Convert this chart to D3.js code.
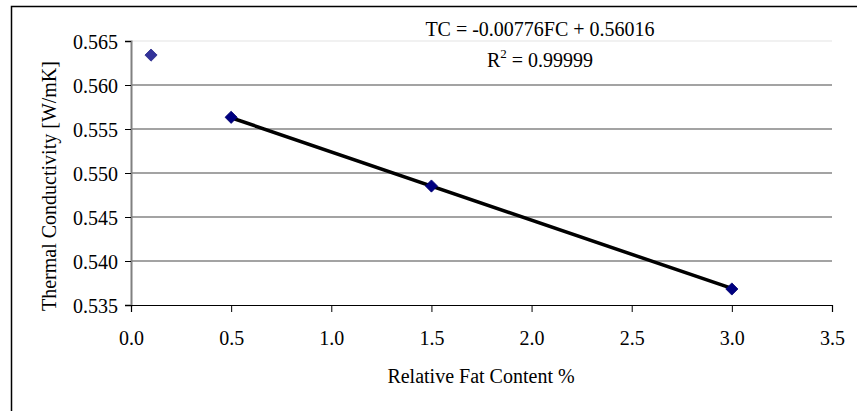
<!DOCTYPE html>
<html><head><meta charset="utf-8">
<script src="https://cdn.jsdelivr.net/npm/d3@7"></script>
<style>
body{margin:0;background:#fff;}
svg text{fill:#000;}
</style></head>
<body><svg id="c" width="862" height="411"></svg>
<script>
// Data
const outlierFat = [0.1];
const outlierTC = [0.5634];
const fatContent = [0.5, 1.5, 3.0];
const conductivity = [0.55633, 0.54852, 0.53682];
const trendSlope = -0.00776;
const trendIntercept = 0.56016;
const xTicks = [0.0, 0.5, 1.0, 1.5, 2.0, 2.5, 3.0, 3.5];
const yTicks = [0.535, 0.540, 0.545, 0.550, 0.555, 0.560, 0.565];
const equationText = "TC = -0.00776FC + 0.56016";
const xTitle = "Relative Fat Content %";
const yTitle = "Thermal Conductivity [W/mK]";

const FONT = "'Liberation Serif','DejaVu Serif','Noto Serif',serif";
const FS = 20;
const svg = d3.select("#c");
const L = 131, R = 832, T = 41, B = 305;
const x = d3.scaleLinear().domain([0, 3.5]).range([L, R]);
const y = d3.scaleLinear().domain([0.535, 0.565]).range([B, T]);

// outer frame (top and left edges visible)
svg.append("path").attr("d", "M11.5,411 L11.5,6.5 L857,6.5")
  .attr("fill", "none").attr("stroke", "#000").attr("stroke-width", 1.5);

// gridlines
svg.append("g").selectAll("line").data(yTicks.filter(d => d > 0.535)).join("line")
  .attr("x1", L).attr("x2", R)
  .attr("y1", d => y(d)).attr("y2", d => y(d))
  .attr("stroke", d => d === 0.565 ? "#ececec" : "#858585")
  .attr("stroke-width", 1.6);

// y axis
const yAxis = d3.axisLeft(y).tickValues(yTicks).tickFormat(d3.format(".3f")).tickSize(6).tickPadding(7);
const gy = svg.append("g").attr("transform", `translate(${L},0)`).call(yAxis)
  .attr("font-family", FONT).attr("font-size", FS);
gy.select(".domain").attr("stroke", "#808080").attr("stroke-width", 2);
gy.selectAll(".tick line").attr("stroke", "#000");
gy.selectAll(".tick text").attr("dy", "0.35em");

// x axis
const xAxis = d3.axisBottom(x).tickValues(xTicks).tickFormat(d3.format(".1f")).tickSize(7).tickPadding(19);
const gx = svg.append("g").attr("transform", `translate(0,${B})`).call(xAxis)
  .attr("font-family", FONT).attr("font-size", FS);
gx.select(".domain").attr("stroke", "#000").attr("stroke-width", 1.2);
gx.selectAll(".tick line").attr("stroke", "#000");

// trendline
const tx = [d3.min(fatContent), d3.max(fatContent)];
svg.append("line")
  .attr("x1", x(tx[0])).attr("y1", y(trendIntercept + trendSlope * tx[0]))
  .attr("x2", x(tx[1])).attr("y2", y(trendIntercept + trendSlope * tx[1]))
  .attr("stroke", "#000").attr("stroke-width", 3.5);

// markers
const diamond = d3.symbol().type(d3.symbolDiamond2).size(95);
svg.append("g").selectAll("path").data(outlierFat.map((d, i) => [d, outlierTC[i]])).join("path")
  .attr("d", diamond).attr("transform", d => `translate(${x(d[0])},${y(d[1])})`)
  .attr("fill", "#333399").attr("stroke", "#2a2a8a").attr("stroke-width", 0.8);
svg.append("g").selectAll("path").data(fatContent.map((d, i) => [d, conductivity[i]])).join("path")
  .attr("d", diamond).attr("transform", d => `translate(${x(d[0])},${y(d[1])})`)
  .attr("fill", "#000080").attr("stroke", "#000070").attr("stroke-width", 0.8);

// equation
svg.append("text").attr("x", 540).attr("y", 36).attr("text-anchor", "middle")
  .attr("font-family", FONT).attr("font-size", FS).text(equationText);
const r2 = svg.append("text").attr("x", 540).attr("y", 67).attr("text-anchor", "middle")
  .attr("font-family", FONT).attr("font-size", FS);
r2.append("tspan").text("R");
r2.append("tspan").attr("dy", -9).attr("font-size", 13).text("2");
r2.append("tspan").attr("dy", 9).text(" = 0.99999");

// axis titles
svg.append("text").attr("x", 481).attr("y", 383).attr("text-anchor", "middle")
  .attr("font-family", FONT).attr("font-size", FS).text(xTitle);
svg.append("text").attr("transform", "translate(56,186) rotate(-90)").attr("text-anchor", "middle")
  .attr("font-family", FONT).attr("font-size", FS).text(yTitle);
</script></body></html>
